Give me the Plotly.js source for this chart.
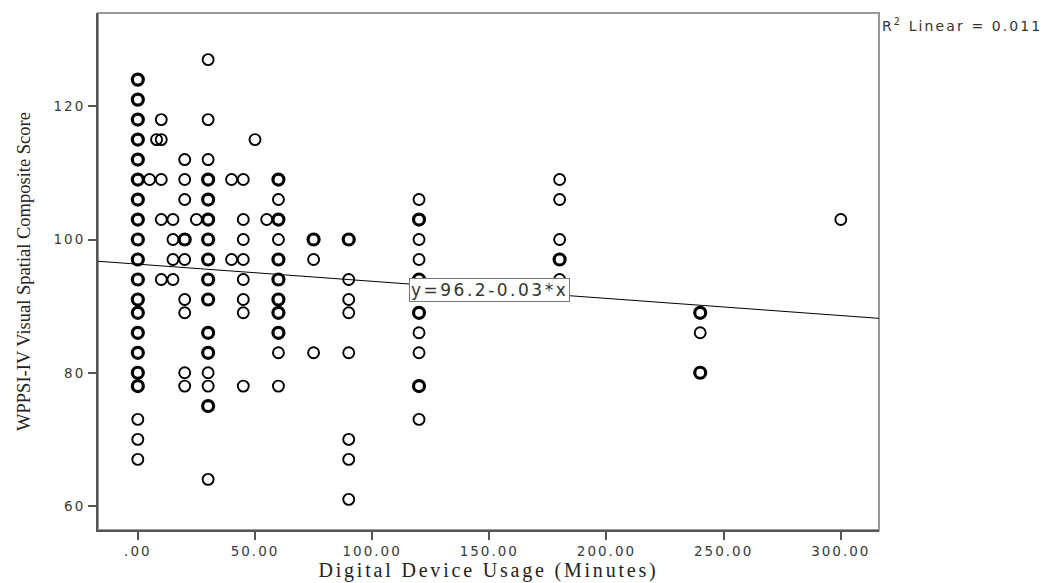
<!DOCTYPE html>
<html><head><meta charset="utf-8">
<script src="https://cdn.plot.ly/plotly-3.0.1.min.js"></script>
<style>
html,body{margin:0;padding:0;background:#fff;}
#chart{width:1042px;height:583px;}
.xtick text,.ytick text{letter-spacing:2px;}
.annotation-text{letter-spacing:2.5px;}
.annotation[data-index="1"] .annotation-text{letter-spacing:2.1px;}
.xtitle{letter-spacing:2.8px;}
</style></head><body><div id="chart"></div>
<script>
// Digital device usage (minutes) per child
const usage = [
  0,0,0,0,0,0,0,0,0,0,0,0,0,0,0,0,0,0,0,0,
  5, 8,
  10,10,10,10,10,
  15,15,15,15,
  20,20,20,20,20,20,20,20,20,
  25,
  30,30,30,30,30,30,30,30,30,30,30,30,30,30,30,30,
  40,40,
  45,45,45,45,45,45,45,45,
  50, 55,
  60,60,60,60,60,60,60,60,60,60,60,
  75,75,75,
  90,90,90,90,90,90,90,90,
  120,120,120,120,120,120,120,120,120,120,
  180,180,180,180,180,
  240,240,240,
  300
];
// WPPSI-IV Visual Spatial composite score
const score = [
  124,121,118,115,112,109,106,103,100,97,94,91,89,86,83,80,78,73,70,67,
  109, 115,
  118,115,109,103,94,
  103,100,97,94,
  112,109,106,100,97,91,89,80,78,
  103,
  127,118,112,109,106,103,100,97,94,91,86,83,80,78,75,64,
  109,97,
  109,103,100,97,94,91,89,78,
  115, 103,
  109,106,103,100,97,94,91,89,86,83,78,
  100,97,83,
  100,94,91,89,83,70,67,61,
  106,103,100,97,94,89,86,83,78,73,
  109,106,100,97,94,
  89,86,80,
  103
];
// number of overlapping cases at each plotted position (estimated)
const count = [
  2,2,2,2,2,2,2,2,2,2,2,2,2,2,2,2,2,1,1,1,
  1, 1,
  1,1,1,1,1,
  1,1,1,1,
  1,1,1,2,1,1,1,1,1,
  1,
  1,1,1,2,2,2,2,2,2,2,2,2,1,1,2,1,
  1,1,
  1,1,1,1,1,1,1,1,
  1, 1,
  2,1,2,1,2,2,2,2,2,1,1,
  2,1,1,
  2,1,1,1,1,1,1,1,
  1,2,1,1,2,2,1,1,2,1,
  1,1,1,2,1,
  2,1,2,
  1
];
const xTickVals = [0,50,100,150,200,250,300];
const xTickText = ['.00','50.00','100.00','150.00','200.00','250.00','300.00'];
const yTickVals = [60,80,100,120];
const xRange = [-17, 316.3];
const yRange = [56.4, 134];
const fitIntercept = 96.3;
const fitSlope = -0.0257;
const fitLabelX = 150;
const fitLabel = 'y=96.2-0.03*x';
const r2Label = 'R<sup>2</sup> Linear = 0.011';
const xTitle = 'Digital Device Usage (Minutes)';
const yTitle = 'WPPSI-IV Visual Spatial Composite Score';

const single = {x:[], y:[]}, multi = {x:[], y:[]};
usage.forEach((u,i)=>{ const t = count[i] > 1 ? multi : single; t.x.push(u); t.y.push(score[i]); });

const fitX = xRange.slice();
const fitY = fitX.map(v => fitIntercept + fitSlope*v);

const traces = [
  {type:'scatter', mode:'lines', x:fitX, y:fitY, line:{color:'#000', width:1}, hoverinfo:'skip'},
  {type:'scatter', mode:'markers', x:single.x, y:single.y,
   marker:{symbol:'circle-open', size:11, color:'#000', line:{width:1.9, color:'#000'}}},
  {type:'scatter', mode:'markers', x:multi.x, y:multi.y,
   marker:{symbol:'circle-open', size:11, color:'#000', line:{width:3.2, color:'#000'}}}
];

const layout = {
  width:1042, height:583,
  margin:{l:98, r:163, t:13, b:53},
  paper_bgcolor:'#fff', plot_bgcolor:'#fff',
  showlegend:false, hovermode:false,
  font:{family:'DejaVu Sans', color:'#444'},
  xaxis:{range:xRange, tickvals:xTickVals, ticktext:xTickText,
    showgrid:false, zeroline:false, showline:true, linecolor:'#555', linewidth:2,
    ticks:'outside', ticklen:8, tickwidth:2, tickcolor:'#555',
    tickfont:{family:'DejaVu Sans', size:13.5, color:'#3a3a3a'},
    title:{text:xTitle, standoff:5, font:{family:'Liberation Serif', size:20, color:'#222'}}},
  yaxis:{range:yRange, tickvals:yTickVals,
    showgrid:false, zeroline:false, showline:true, linecolor:'#555', linewidth:2,
    ticks:'outside', ticklen:8, tickwidth:2, tickcolor:'#555',
    tickfont:{family:'DejaVu Sans', size:13.5, color:'#3a3a3a'},
    title:{text:yTitle, standoff:18, font:{family:'Liberation Serif', size:18.5, color:'#222'}}},
  shapes:[{type:'rect', xref:'paper', yref:'paper', x0:0, y0:0, x1:1, y1:1,
    line:{color:'#999', width:2}, layer:'below'}],
  annotations:[
    {x:fitLabelX, y:fitIntercept + fitSlope*fitLabelX, xref:'x', yref:'y', text:fitLabel,
     showarrow:false, bgcolor:'#fff', bordercolor:'#777', borderwidth:1, borderpad:1,
     font:{family:'DejaVu Sans', size:17, color:'#333'}},
    {x:1, y:1, xref:'paper', yref:'paper', xanchor:'left', yanchor:'top', align:'left', xshift:1, yshift:-1,
     text:r2Label, showarrow:false, font:{family:'DejaVu Sans', size:14, color:'#333'}}
  ]
};
Plotly.newPlot('chart', traces, layout, {displayModeBar:false, staticPlot:true});
</script></body></html>
